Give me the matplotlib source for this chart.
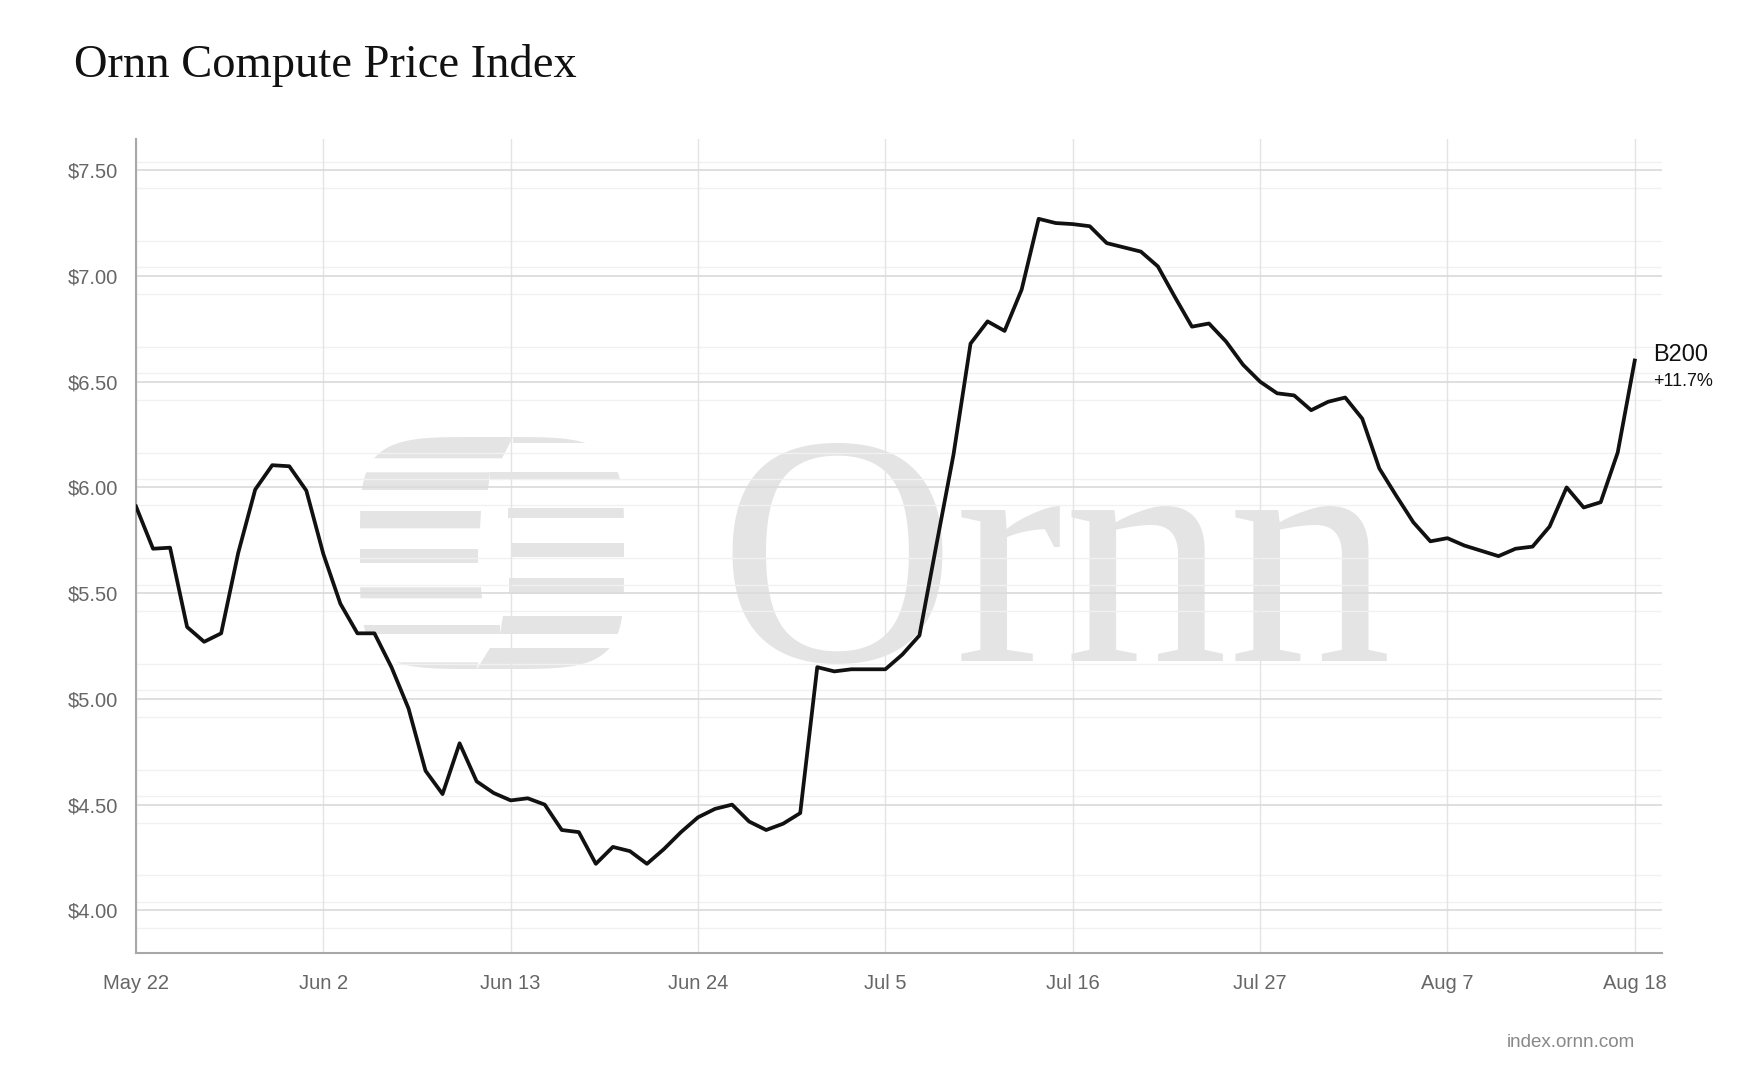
import numpy as np
import pandas as pd
import matplotlib
matplotlib.use("Agg")
import matplotlib.pyplot as plt
import matplotlib.dates as mdates
from matplotlib.patches import Polygon

plt.rcParams["font.family"] = ["Liberation Sans", "DejaVu Sans"]

W, H = 1763, 1089

# daily B200 index, May 22 -> Aug 18
start_date = "2025-05-22"
b200_price = [
    5.91, 5.71, 5.715, 5.34, 5.27, 5.31, 5.69, 5.99, 6.105, 6.10,
    5.985, 5.685, 5.45, 5.31, 5.31, 5.15, 4.955, 4.66, 4.55, 4.79,
    4.61, 4.555, 4.52, 4.53, 4.50, 4.38, 4.37, 4.22, 4.30, 4.28,
    4.22, 4.29, 4.37, 4.44, 4.48, 4.50, 4.42, 4.38, 4.41, 4.46,
    5.15, 5.13, 5.14, 5.14, 5.14, 5.21, 5.30, 5.73, 6.155, 6.68,
    6.785, 6.74, 6.935, 7.27, 7.25, 7.245, 7.235, 7.155, 7.135, 7.115,
    7.045, 6.90, 6.76, 6.775, 6.69, 6.58, 6.50, 6.445, 6.435, 6.365,
    6.405, 6.425, 6.325, 6.09, 5.96, 5.835, 5.745, 5.76, 5.725, 5.70,
    5.675, 5.71, 5.72, 5.815, 6.00, 5.905, 5.93, 6.165, 6.60,
]
series_name = "B200"
y_ticks = [4.0, 4.5, 5.0, 5.5, 6.0, 6.5, 7.0, 7.5]
tick_dates = pd.date_range(start_date, "2025-08-18", freq="11D")

dates = pd.date_range(start_date, periods=len(b200_price), freq="D")

fig = plt.figure(figsize=(W / 100, H / 100), dpi=100)
fig.patch.set_facecolor("white")

# ---- watermark (pixel coordinates) ----
wm = fig.add_axes([0, 0, 1, 1], zorder=0)
wm.set_xlim(0, W)
wm.set_ylim(H, 0)
wm.axis("off")
wm_color = "#e4e4e4"

# superellipse outline of the logo
t = np.linspace(0, 2 * np.pi, 400)
n = 4.5
cx, cy, a, b = 492, 553, 132, 116
sx = cx + a * np.sign(np.cos(t)) * np.abs(np.cos(t)) ** (2 / n)
sy = cy + b * np.sign(np.sin(t)) * np.abs(np.sin(t)) ** (2 / n)
shape = Polygon(np.column_stack([sx, sy]), closed=True, transform=wm.transData)

left_stripes = [(437, 458.3, 513, 502), (472.3, 490, 490, 488), (511, 528.3, 481, 480),
                (549, 562.7, 478, 478), (587.3, 598.3, 481, 482), (625, 634.3, 500, 500),
                (662.3, 669, 478, 477)]
right_stripes = [(437, 443.3, 513, 513), (472.3, 480, 490, 490), (508.3, 518.3, 508, 508),
                 (543.3, 556.7, 512, 512), (578.3, 594.3, 509, 509), (615.7, 634.3, 503, 500),
                 (647.7, 669, 490, 477)]
for y0, y1, xt, xb in left_stripes:
    p = Polygon([(350, y0), (xt, y0), (xb, y1), (350, y1)], closed=True,
                facecolor=wm_color, edgecolor="none")
    wm.add_patch(p)
    p.set_clip_path(shape)
for y0, y1, xt, xb in right_stripes:
    p = Polygon([(xt, y0), (635, y0), (635, y1), (xb, y1)], closed=True,
                facecolor=wm_color, edgecolor="none")
    wm.add_patch(p)
    p.set_clip_path(shape)

wm.text(718, 661, "Ornn", fontsize=236, family="Liberation Serif", color=wm_color,
        ha="left", va="baseline")

# ---- main chart ----
ax = fig.add_axes([136 / W, 1 - 953.3 / H, (1662 - 136) / W, (953.3 - 139.3) / H], zorder=1)
ax.patch.set_alpha(0)

for m in np.arange(3.5, 8.01, 0.5):
    for off in (-0.085, 0.04, 0.165):
        ax.axhline(m + off, color="#f1f1f1", lw=1, zorder=0.5)

ax.plot(dates, b200_price, color="#111111", lw=2.7, solid_joinstyle="round", zorder=3)

ax.set_xlim(dates[0], dates[-1] + pd.Timedelta(days=1.6))
ax.set_ylim(3.797, 7.646)
ax.set_yticks(y_ticks)
ax.set_yticklabels([f"${v:.2f}" for v in y_ticks])
ax.set_xticks(tick_dates)
ax.xaxis.set_major_formatter(mdates.DateFormatter("%b %-d"))

ax.grid(axis="y", color="#dcdcdc", lw=1.3, zorder=1)
ax.grid(axis="x", color="#e4e4e4", lw=1, zorder=1)
ax.set_axisbelow(True)

for s in ("top", "right"):
    ax.spines[s].set_visible(False)
for s in ("left", "bottom"):
    ax.spines[s].set_color("#a8a8a8")
    ax.spines[s].set_linewidth(1.5)

ax.tick_params(axis="both", length=0, labelsize=14.5, labelcolor="#666666")
ax.tick_params(axis="y", pad=13)
ax.tick_params(axis="x", pad=15)

change = (b200_price[-1] / b200_price[0] - 1) * 100
ax.annotate(series_name, xy=(dates[-1], b200_price[-1]), xytext=(13.5, 0),
            textcoords="offset points", ha="left", va="baseline",
            fontsize=17, color="#111111")
ax.annotate(f"{change:+.1f}%", xy=(dates[-1], b200_price[-1]), xytext=(13.5, -18.5),
            textcoords="offset points", ha="left", va="baseline",
            fontsize=13, color="#111111")

fig.text(73.5 / W, 1 - 77.3 / H, "Ornn Compute Price Index", family="Liberation Serif",
         fontsize=33.5, color="#111111", ha="left", va="baseline")
fig.text(1635 / W, 1 - 1047 / H, "index.ornn.com", fontsize=13.5, color="#888888",
         ha="right", va="baseline")

fig.savefig("out.png", dpi=100)
